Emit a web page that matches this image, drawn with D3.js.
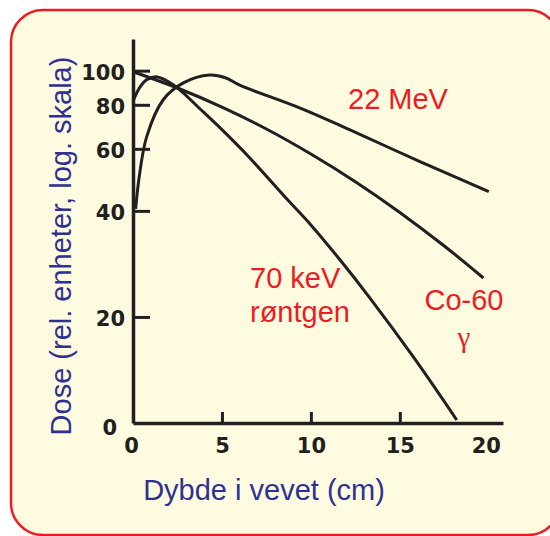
<!DOCTYPE html>
<html>
<head>
<meta charset="utf-8">
<script src="https://cdn.jsdelivr.net/npm/d3@7"></script>
<style>
  body { margin: 0; background: #fff; }
  text { font-family: "Liberation Sans", Arial, sans-serif; }
  .tick text { font-family: "DejaVu Sans", sans-serif; font-weight: bold; }
</style>
</head>
<body>
<div id="chart"></div>
<script>
// depth (cm) and relative dose (%)
var depthXray = [0, 0.4, 0.8, 1.35, 2.0, 2.6, 3.7, 5.0, 6.5, 8.6, 10, 11.6, 13.3, 15.8, 18.2]
var doseXray  = [82, 90, 94.5, 96, 93, 88.5, 78.5, 68, 57, 43.5, 36.5, 29.2, 22.7, 15.3, 10.2]

var depthCo = [0, 2.5, 5, 7.5, 10, 12.5, 15, 17.5, 19.7]
var doseCo  = [99.3, 89.3, 78.8, 68.3, 58, 48.4, 39.6, 31.8, 25.8]

var depthMev = [0.15, 0.35, 0.77, 1.7, 2.83, 4.3, 5.2, 6.0, 9.4, 12.2, 16.1, 20]
var doseMev  = [40.5, 50, 65, 82.7, 92.3, 97.2, 95.5, 91, 78.3, 67.9, 55.3, 45.4]

var xTicks = [0, 5, 10, 15, 20]
var yTicks = [10, 20, 40, 60, 80, 100]
var yTickLabels = ["0", "20", "40", "60", "80", "100"]

var red = "#ed1c24", blue = "#2e3192", ink = "#231f20"

var svg = d3.select("#chart")
  .append("svg")
    .attr("width", 550)
    .attr("height", 536)

// cream panel with red border
svg.append("rect")
    .attr("x", 11).attr("y", 10)
    .attr("width", 549).attr("height", 525)
    .attr("rx", 32).attr("ry", 32)
    .style("fill", "#fffbe0")
    .style("stroke", red)
    .style("stroke-width", 2.5)

var x = d3.scaleLinear().domain([0, 20.8]).range([133, 503])
var y = d3.scaleLog().domain([10, 123]).range([423, 39])

// x axis
var gx = svg.append("g")
    .attr("transform", "translate(0,423)")
    .call(d3.axisBottom(x)
      .tickValues(xTicks)
      .tickSizeInner(-11)
      .tickSizeOuter(0)
      .tickPadding(0)
      .tickFormat(d3.format("d")))
gx.select(".domain").style("stroke", ink).style("stroke-width", 3.5)
gx.selectAll(".tick line")
    .style("stroke", ink).style("stroke-width", 3)
    .style("display", d => (d == 0 || d == 20) ? "none" : null)
gx.selectAll(".tick text")
    .attr("y", 30).attr("dy", 0)
    .attr("dx", d => d == 0 ? -2 : d == 20 ? -3 : 0)
    .style("font-size", "21px").style("fill", ink)

// y axis
var gy = svg.append("g")
    .attr("transform", "translate(133,0)")
    .call(d3.axisLeft(y)
      .tickValues(yTicks)
      .tickSizeInner(-17)
      .tickSizeOuter(0)
      .tickPadding(9)
      .tickFormat((d, i) => yTickLabels[i]))
gy.select(".domain").style("stroke", ink).style("stroke-width", 3.5)
gy.selectAll(".tick line")
    .style("stroke", ink).style("stroke-width", 3)
    .style("display", d => d == 10 ? "none" : null)
gy.selectAll(".tick text")
    .style("font-size", "21px").style("fill", ink)
    .attr("dy", "0.36em")
    .attr("x", d => d == 10 ? -16 : -8)
    .attr("y", d => d == 10 ? 4 : 1)

// curves
var line = d3.line()
    .x(d => x(d[0]))
    .y(d => y(d[1]))
    .curve(d3.curveCatmullRom.alpha(0.5))

var series = [
  d3.zip(depthXray, doseXray),
  d3.zip(depthCo, doseCo),
  d3.zip(depthMev, doseMev)
]
svg.selectAll(".curve")
  .data(series)
  .enter()
  .append("path")
    .attr("class", "curve")
    .attr("d", line)
    .style("fill", "none")
    .style("stroke", ink)
    .style("stroke-width", 3)

// axis titles
svg.append("text")
    .attr("x", 264).attr("y", 500)
    .attr("text-anchor", "middle")
    .style("font-size", "29px").style("fill", blue)
    .text("Dybde i vevet (cm)")

svg.append("text")
    .attr("transform", "translate(71,246) rotate(-90)")
    .attr("text-anchor", "middle")
    .style("font-size", "29px").style("fill", blue)
    .text("Dose (rel. enheter, log. skala)")

// series labels
var labels = [
  {t: "22 MeV", x: 348, y: 109, a: "start"},
  {t: "70 keV", x: 250, y: 288, a: "start"},
  {t: "røntgen", x: 250, y: 322, a: "start"},
  {t: "Co-60", x: 464, y: 310, a: "middle"}
]
svg.selectAll(".lbl")
  .data(labels)
  .enter()
  .append("text")
    .attr("class", "lbl")
    .attr("x", d => d.x).attr("y", d => d.y)
    .attr("text-anchor", d => d.a)
    .style("font-size", "29px").style("fill", red)
    .text(d => d.t)

svg.append("text")
    .attr("x", 464).attr("y", 347)
    .attr("text-anchor", "middle")
    .style("font-family", "'Liberation Serif', serif")
    .style("font-size", "29px").style("fill", red)
    .text("γ")
</script>
</body>
</html>
